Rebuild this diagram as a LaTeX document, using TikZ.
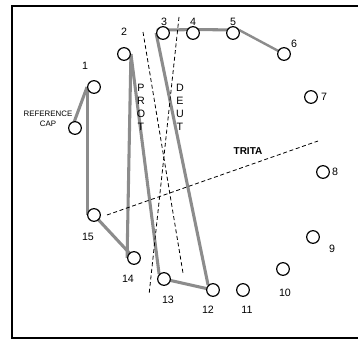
\documentclass[tikz,border=0pt]{standalone}
\usepackage{fontspec}
\setmainfont{Liberation Sans}
\usetikzlibrary{backgrounds}
\begin{document}
\begin{tikzpicture}[x=0.75pt,y=-0.75pt,
  capnode/.style={circle,draw=black,fill=white,line width=0.9pt,minimum size=9.5pt,inner sep=0pt},
  num/.style={font=\fontsize{8}{9}\selectfont,inner sep=0pt},
  conn/.style={draw=black!45,line width=2.3pt},
  guide/.style={draw=black,line width=0.6pt,dash pattern=on 3pt off 2pt},
  vert/.style={font=\fontsize{8}{9.8}\selectfont,align=center,inner sep=0pt},
  frameline/.style={draw=black,line width=1.6pt}]
\useasboundingbox (0,0) rectangle (358,339);
\draw[frameline] (360,6) -- (12,6) -- (12,338) -- (360,338);
% caps
\node[capnode] (cr) at (75,128) {};
\node[capnode] (c1) at (94,87) {};
\node[capnode] (c2) at (124,54) {};
\node[capnode] (c3) at (163,33) {};
\node[capnode] (c4) at (193,33) {};
\node[capnode] (c5) at (233,33) {};
\node[capnode] (c6) at (284,54) {};
\node[capnode] (c7) at (311,97) {};
\node[capnode] (c8) at (323,172) {};
\node[capnode] (c9) at (313,237) {};
\node[capnode] (c10) at (283,269) {};
\node[capnode] (c11) at (243,290) {};
\node[capnode] (c12) at (213,290) {};
\node[capnode] (c13) at (164,279) {};
\node[capnode] (c14) at (134,258) {};
\node[capnode] (c15) at (94,215) {};
% labels
\node[num] (l1) at (85,66) {1};
\node[num] (l2) at (124,32) {2};
\node[num] (l3) at (164,22) {3};
\node[num] (l4) at (193,22) {4};
\node[num] (l5) at (233,22) {5};
\node[num] (l6) at (294,44) {6};
\node[num] (l7) at (324,97) {7};
\node[num] (l8) at (335,172) {8};
\node[num] (l9) at (332,249) {9};
\node[num] (l10) at (285,293) {10};
\node[num] (l11) at (247,310) {11};
\node[num] (l12) at (208,310) {12};
\node[num] (l13) at (168,300) {13};
\node[num] (l14) at (128,279) {14};
\node[num] (l15) at (88,237) {15};
\node[font=\fontsize{5.9}{7.5}\selectfont,align=center,inner sep=0pt] (lref) at (48,119) {REFERENCE\\CAP};
\node[font=\bfseries\fontsize{7.5}{8}\selectfont,inner sep=0pt] (ltrita) at (248,151) {TRITA};
\node[vert] (lprot) at (141,107) {P\\R\\O\\T};
\node[vert] (ldeut) at (180,107) {D\\E\\U\\T};
% guide line ends
\coordinate (pa) at (143,32);
\coordinate (pb) at (183,273);
\coordinate (da) at (179,17);
\coordinate (db) at (149,295);
\coordinate (ta) at (107,215);
\coordinate (tb) at (318,141);
\begin{scope}[on background layer]
\draw[conn] (cr.south west) -- (c1.west);
\draw[conn] (c1.west) -- (c15.west);
\draw[conn] (c15.center) -- (c14.center);
\draw[conn] (c14.west) -- (c2.east);
\draw[conn] (c2.east) -- (c13.north west);
\draw[conn] (c13.center) -- (c12.center);
\draw[conn] (c12.north west) -- (c3.west);
\draw[conn] (c3.155) -- (c4.30) -- (c5.25);
\draw[conn,line width=1.8pt] (c5.25) -- (c6.center);
\draw[guide] (pa) -- (pb);
\draw[guide] (da) -- (db);
\draw[guide] (ta) -- (tb);
\end{scope}
\end{tikzpicture}
\end{document}
